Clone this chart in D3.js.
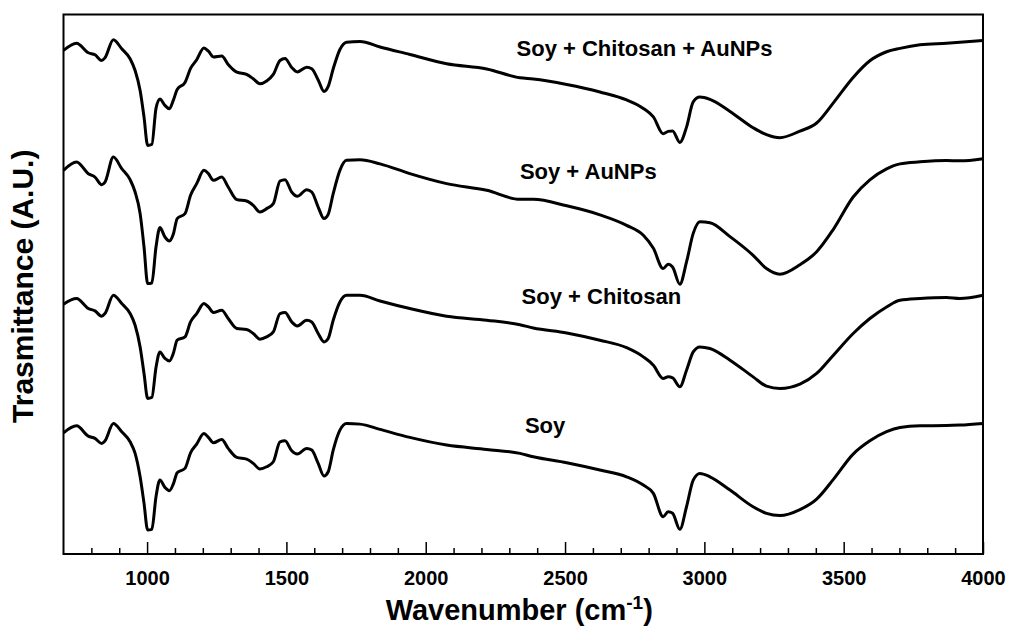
<!DOCTYPE html>
<html>
<head>
<title>FTIR spectra</title>
<script src="https://d3js.org/d3.v7.min.js"></script>
<style>
  body { margin: 0; background: #fff; }
  text { font-family: "Liberation Sans", Arial, Helvetica, sans-serif; font-weight: bold; fill: #000; }
</style>
</head>
<body>
<svg id="chart" width="1009" height="626"></svg>
<script>
// wavenumbers (cm-1) shared by all four spectra
const wavenumber = [700, 747, 789, 813, 837, 849, 879, 909, 939, 957, 975, 989, 1002, 1017, 1032, 1046, 1064, 1080, 1094, 1108,
  1136, 1156, 1178, 1204, 1220, 1238, 1268, 1291, 1322, 1357, 1381, 1405, 1429, 1453, 1477, 1495, 1519, 1539, 1573, 1591,
  1614, 1635, 1650, 1668, 1692, 1716, 1764, 1836, 1943, 2075, 2219, 2338, 2386, 2506, 2625, 2721, 2781, 2817, 2852, 2870,
  2886, 2912, 2936, 2960, 2984, 3020, 3092, 3175, 3223, 3271, 3343, 3403, 3463, 3534, 3594, 3654, 3702, 3774, 3869, 3917, 4000];

// transmittance (A.U., already offset as in the figure)
const soy = [12.13, 12.83, 11.8, 11.57, 11.07, 11.33, 13.07, 12.23, 11.23, 10.07,
  7.73, 5.07, 2.4, 2.47, 5.73, 7.4, 6.67, 6.33, 7.0, 8.13,
  8.57, 10.13, 11.0, 12.07, 11.67, 11.13, 11.47, 10.57, 9.67, 9.5,
  9.07, 8.5, 8.73, 9.23, 11.23, 11.33, 10.33, 10.0, 10.57, 10.4,
  9.07, 7.8, 8.23, 10.4, 12.4, 13.07, 13.0, 12.47, 11.67, 10.9,
  10.47, 10.07, 9.73, 9.13, 8.4, 7.73, 6.9, 6.07, 3.73, 4.23,
  4.07, 2.47, 4.73, 7.4, 8.07, 7.73, 6.4, 4.73, 4.07, 3.85,
  4.45, 5.5, 7.47, 10.0, 11.33, 12.24, 12.66, 12.83, 12.85, 12.9, 13.07];

const soyChitosan = [25.0, 25.57, 24.57, 24.33, 23.8, 24.07, 25.9, 25.07, 24.07, 22.9,
  20.73, 18.07, 15.57, 15.67, 18.67, 20.23, 19.57, 19.33, 20.07, 21.4,
  21.73, 23.23, 24.07, 25.07, 24.73, 24.17, 24.4, 23.57, 22.57, 22.47,
  22.07, 21.5, 21.73, 22.23, 24.07, 24.17, 23.23, 22.83, 23.4, 23.23,
  22.07, 21.23, 21.57, 23.4, 25.23, 25.9, 25.9, 25.33, 24.57, 23.8,
  23.4, 22.95, 22.63, 22.13, 21.4, 20.65, 19.73, 18.9, 17.57, 17.73,
  17.63, 16.73, 18.4, 20.23, 20.73, 20.57, 19.4, 17.73, 16.8, 16.57,
  17.0, 18.07, 19.9, 22.07, 23.57, 24.73, 25.4, 25.57, 25.67, 25.57, 25.9];

const soyAuNPs = [38.4, 39.23, 38.07, 37.73, 36.97, 37.23, 39.73, 38.57, 37.47, 36.23,
  34.07, 30.73, 27.07, 27.13, 30.73, 32.67, 31.73, 31.33, 32.0, 33.57,
  34.07, 35.9, 37.07, 38.4, 38.07, 37.4, 37.73, 36.73, 35.47, 35.33,
  34.9, 34.23, 34.57, 35.07, 37.33, 37.47, 36.23, 35.8, 36.47, 36.23,
  34.73, 33.57, 34.0, 36.07, 38.4, 39.4, 39.45, 39.05, 38.07, 37.07,
  36.4, 35.5, 35.5, 34.85, 33.95, 32.9, 31.9, 30.6, 28.57, 29.0,
  28.73, 27.0, 29.23, 32.09, 33.25, 33.15, 31.77, 29.9, 28.57, 28.0,
  28.95, 30.25, 32.5, 35.73, 37.45, 38.55, 39.05, 39.25, 39.38, 39.35, 39.57];

const soyChitosanAuNPs = [50.4, 51.13, 50.17, 49.97, 49.4, 49.67, 51.47, 50.57, 49.57, 48.4,
  46.4, 43.73, 40.9, 41.0, 44.6, 45.55, 44.9, 44.57, 45.4, 46.5,
  47.2, 48.6, 49.47, 50.65, 50.33, 49.75, 49.85, 49.0, 48.23, 48.0,
  47.57, 47.07, 47.35, 48.0, 49.4, 49.6, 48.7, 48.25, 48.73, 48.57,
  47.45, 46.3, 46.8, 48.57, 50.5, 51.23, 51.3, 50.75, 50.0, 49.07,
  48.55, 47.67, 47.55, 47.0, 46.25, 45.45, 44.6, 43.75, 42.07, 42.3,
  42.35, 41.2, 42.73, 45.25, 45.73, 45.5, 44.3, 42.67, 41.98, 41.67,
  42.33, 43.14, 45.16, 47.7, 49.37, 50.27, 50.61, 50.97, 51.13, 51.22, 51.4];

const seriesNames = ["Soy", "Soy + Chitosan", "Soy + AuNPs", "Soy + Chitosan + AuNPs"];
const seriesValues = [soy, soyChitosan, soyAuNPs, soyChitosanAuNPs];
// label anchor: wavenumber where the text starts, and baseline level
const labelWn = [2356, 2344, 2338, 2326];
const labelY = [12.1, 25.07, 37.57, 49.8];

const majorTicks = [1000, 1500, 2000, 2500, 3000, 3500, 4000];

const margin = {top: 14.5, right: 26, bottom: 72, left: 63.5};
const W = 1009, H = 626;

const svg = d3.select("#chart");

const x = d3.scaleLinear([700, 4000], [margin.left, W - margin.right]);
const y = d3.scaleLinear([0, 54], [H - margin.bottom, margin.top]);

// minor ticks every 100, inward
const minorTicks = d3.range(800, 4000, 100).filter(v => v % 500 != 0);
svg.append("g")
  .attr("transform", "translate(0," + y(0) + ")")
  .call(d3.axisBottom(x).tickValues(minorTicks).tickSize(-6).tickFormat(""))
  .call(g => g.select(".domain").remove())
  .call(g => g.selectAll("line").attr("stroke", "#000").attr("stroke-width", 1.5));

// major ticks + labels
svg.append("g")
  .attr("transform", "translate(0," + y(0) + ")")
  .call(d3.axisBottom(x).tickValues(majorTicks).tickSize(-12).tickPadding(17).tickFormat(d3.format("d")))
  .call(g => g.select(".domain").remove())
  .call(g => g.selectAll("line").attr("stroke", "#000").attr("stroke-width", 1.5))
  .call(g => g.selectAll("text").attr("font-size", 20).attr("font-family", null));

// frame
svg.append("rect")
  .attr("x", x(700)).attr("y", y(54))
  .attr("width", x(4000) - x(700)).attr("height", y(0) - y(54))
  .attr("fill", "none").attr("stroke", "#000").attr("stroke-width", 2);

const line = d3.line()
  .x((d, i) => x(wavenumber[i]))
  .y(d => y(d))
  .curve(d3.curveMonotoneX);

svg.append("g").selectAll("path")
  .data(seriesValues)
  .join("path")
  .attr("d", d => line(d))
  .attr("fill", "none")
  .attr("stroke", "#000")
  .attr("stroke-width", 3)
  .attr("stroke-linejoin", "round");

svg.append("g").selectAll("text")
  .data(seriesNames)
  .join("text")
  .attr("x", (d, i) => x(labelWn[i]))
  .attr("y", (d, i) => y(labelY[i]))
  .attr("font-size", 22)
  .text(d => d);

// axis titles
const xt = svg.append("text")
  .attr("x", (x(700) + x(4000)) / 2 - 4)
  .attr("y", 620)
  .attr("text-anchor", "middle")
  .attr("font-size", 29);
xt.append("tspan").text("Wavenumber (cm");
xt.append("tspan").attr("font-size", 19).attr("dy", -11).text("-1");
xt.append("tspan").attr("dy", 11).text(")");

svg.append("text")
  .attr("transform", "translate(33," + y(26.8) + ") rotate(-90)")
  .attr("text-anchor", "middle")
  .attr("font-size", 30)
  .text("Trasmittance (A.U.)");
</script>
</body>
</html>
